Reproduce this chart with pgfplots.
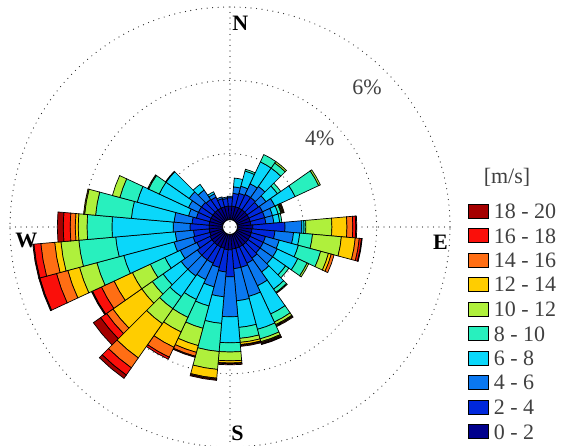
\documentclass[border=0pt]{standalone}
\usepackage{pgfplots}
\usepackage{pgfplotstable}
\usepgfplotslibrary{polar}
\pgfplotsset{compat=1.18}
\usepackage{fontspec}
\setmainfont{Liberation Serif}

% speed-class colours, 0-2 m/s (wr1) up to 18-20 m/s (wr10)
\definecolor{wr1}{RGB}{0,0,140}
\definecolor{wr2}{RGB}{0,40,220}
\definecolor{wr3}{RGB}{10,120,240}
\definecolor{wr4}{RGB}{10,215,250}
\definecolor{wr5}{RGB}{40,240,190}
\definecolor{wr6}{RGB}{175,240,60}
\definecolor{wr7}{RGB}{255,205,0}
\definecolor{wr8}{RGB}{255,110,20}
\definecolor{wr9}{RGB}{250,15,10}
\definecolor{wr10}{RGB}{165,0,0}

% dir: sector centre (deg, clockwise from north), 10 deg wide
% c1..c10: cumulative frequency (%) at the top of each speed class
\pgfplotstableread{
dir c1   c2   c3   c4   c5   c6   c7   c8   c9   c10
0   0.57 0.80 0.84 0.84 0.84 0.84 0.84 0.84 0.84 0.84
10  0.57 0.92 1.10 1.34 1.34 1.34 1.34 1.34 1.34 1.34
20  0.57 0.95 1.15 1.58 1.63 1.63 1.63 1.63 1.63 1.63
30  0.57 0.98 1.30 1.96 2.18 2.18 2.18 2.18 2.18 2.18
40  0.57 0.98 1.35 1.96 2.13 2.18 2.18 2.18 2.18 2.18
50  0.57 0.95 1.20 1.58 1.69 1.69 1.69 1.69 1.69 1.69
60  0.57 0.98 1.35 1.96 2.67 2.72 2.72 2.72 2.72 2.72
70  0.57 0.98 1.20 1.36 1.44 1.47 1.50 1.53 1.53 1.53
80  0.57 0.98 1.20 1.36 1.42 1.42 1.42 1.42 1.42 1.42
90  0.62 1.50 1.96 2.02 2.07 2.78 3.19 3.35 3.43 3.46
100 0.60 1.23 1.74 1.91 2.26 3.05 3.43 3.54 3.60 3.62
110 0.60 1.00 1.39 1.93 2.56 2.78 2.86 2.94 2.94 2.94
120 0.60 1.00 1.42 2.04 2.32 2.37 2.37 2.37 2.37 2.37
130 0.60 1.00 1.42 1.85 1.96 1.96 1.96 1.96 1.96 1.96
140 0.60 1.04 1.50 2.07 2.18 2.21 2.21 2.21 2.21 2.21
150 0.60 1.09 1.77 2.62 2.86 2.94 2.97 3.00 3.00 3.00
160 0.60 1.14 1.96 2.89 3.16 3.24 3.27 3.30 3.32 3.32
170 0.60 1.14 2.02 2.75 3.05 3.16 3.22 3.24 3.27 3.27
180 0.62 1.36 2.45 3.16 3.41 3.65 3.71 3.73 3.76 3.76
190 0.62 1.23 1.91 2.64 3.41 3.90 4.14 4.17 4.20 4.20
200 0.60 1.14 1.69 2.23 2.86 3.35 3.54 3.65 3.68 3.68
210 0.60 1.09 1.58 2.18 2.72 3.16 3.62 3.92 3.98 3.98
220 0.60 1.09 1.63 2.32 2.72 3.22 4.36 4.69 4.93 5.04
230 0.60 1.09 1.63 2.23 2.59 2.94 3.90 4.11 4.31 4.55
240 0.60 1.00 1.50 1.96 2.40 2.94 3.49 3.87 4.14 4.17
250 0.57 1.04 1.58 3.00 3.76 4.25 4.58 4.90 5.37 5.40
260 0.57 1.00 1.50 3.13 4.14 4.63 4.80 5.18 5.37 5.40
270 0.57 1.09 1.55 3.22 3.90 4.14 4.22 4.36 4.55 4.71
280 0.57 1.04 1.53 2.70 3.68 3.98 4.01 4.01 4.01 4.01
290 0.57 0.95 1.17 2.62 3.11 3.32 3.32 3.32 3.32 3.32
300 0.57 0.95 1.25 2.13 2.45 2.48 2.48 2.48 2.48 2.48
310 0.57 0.95 1.36 2.13 2.15 2.15 2.15 2.15 2.15 2.15
320 0.57 0.92 1.23 1.42 1.42 1.42 1.42 1.42 1.42 1.42
330 0.57 0.90 1.00 1.06 1.06 1.06 1.06 1.06 1.06 1.06
340 0.57 0.80 0.85 0.85 0.85 0.85 0.85 0.85 0.85 0.85
350 0.57 0.78 0.82 0.82 0.82 0.82 0.82 0.82 0.82 0.82
}\rosedata

% radius of the empty hub in the middle of the rose (%)
\newcommand\hubradius{0.2}

\begin{document}
\begin{tikzpicture}
\useasboundingbox (-230pt,-219pt) rectangle (331pt,227pt);
\begin{polaraxis}[
  at={(0pt,0pt)}, anchor=center,
  scale only axis, width=440pt, height=440pt,
  ymin=0, ymax=6,
  xtick={0,90,180,270}, ytick={2,4,6},
  xticklabels={,,,}, yticklabels={,,},
  xticklabel style={text opacity=0}, yticklabel style={text opacity=0},
  major tick length=0pt,
  axis line style={draw=none},
  xmajorgrids, ymajorgrids,
  major grid style={black!85, line width=1.2pt, line cap=round, dash pattern=on 0pt off 5.5pt},
  clip=false,
  legend image code/.code={\draw[#1, draw=black, line width=0.6pt] (0pt,-7pt) rectangle (20pt,7pt);},
  legend style={at={(axis description cs:1.0409,0.5642)}, anchor=north west,
    draw=none, fill=none, inner sep=0pt, row sep=0pt, column sep=5pt,
    font=\fontsize{22}{22}\selectfont, text=black!75,
    nodes={inner sep=0pt, minimum height=24.5pt, text depth=0pt},
    cells={anchor=west}},
]
% one patch per sector and speed class, stacked outwards
\foreach \i in {0,...,35}{%
  \edef\getdir{\noexpand\pgfplotstablegetelem{\i}{dir}\noexpand\of\noexpand\rosedata}\getdir
  \pgfmathsetmacro\angM{90-\pgfplotsretval}%
  \pgfmathsetmacro\angA{\angM-5}%
  \pgfmathsetmacro\angB{\angM+5}%
  \xdef\rlo{\hubradius}%
  \foreach \k in {1,...,10}{%
    \edef\getval{\noexpand\pgfplotstablegetelem{\i}{c\k}\noexpand\of\noexpand\rosedata}\getval
    \let\rhi\pgfplotsretval
    \pgfmathtruncatemacro\keep{\rhi>\rlo+0.001}%
    \ifnum\keep=1
      \edef\patch{\noexpand\addplot[draw=black, line width=0.7pt, fill=wr\k, forget plot]
        coordinates {(\angA,\rlo) (\angA,\rhi) (\angM,\rhi) (\angB,\rhi) (\angB,\rlo) (\angM,\rlo)} -- cycle;}%
      \patch
    \fi
    \xdef\rlo{\rhi}%
  }%
}

\addlegendimage{fill=wr10}\addlegendentry{18 - 20}
\addlegendimage{fill=wr9}\addlegendentry{16 - 18}
\addlegendimage{fill=wr8}\addlegendentry{14 - 16}
\addlegendimage{fill=wr7}\addlegendentry{12 - 14}
\addlegendimage{fill=wr6}\addlegendentry{10 - 12}
\addlegendimage{fill=wr5}\addlegendentry{8 - 10}
\addlegendimage{fill=wr4}\addlegendentry{6 - 8}
\addlegendimage{fill=wr3}\addlegendentry{4 - 6}
\addlegendimage{fill=wr2}\addlegendentry{2 - 4}
\addlegendimage{fill=wr1}\addlegendentry{0 - 2}

% compass labels and ring labels
\node[anchor=west, inner sep=0pt, font=\bfseries\fontsize{22}{22}\selectfont] at (axis cs:89.4,5.56) {N};
\node[anchor=west, inner sep=0pt, font=\bfseries\fontsize{22}{22}\selectfont] at (axis cs:270.3,5.62) {S};
\node[anchor=west, inner sep=0pt, font=\bfseries\fontsize{22}{22}\selectfont] at (axis cs:183.5,5.87) {W};
\node[anchor=east, inner sep=0pt, font=\bfseries\fontsize{22}{22}\selectfont] at (axis cs:356.1,5.96) {E};
\node[inner sep=0pt, text=black!75, font=\fontsize{22}{22}\selectfont] at (axis cs:44.7,3.45) {4\%};
\node[inner sep=0pt, text=black!75, font=\fontsize{22}{22}\selectfont] at (axis cs:45.6,5.34) {6\%};
\node[inner sep=0pt, text=black!75, font=\fontsize{22}{22}\selectfont] at (axis description cs:1.1295,0.6136) {[m/s]};
\end{polaraxis}
\end{tikzpicture}
\end{document}
